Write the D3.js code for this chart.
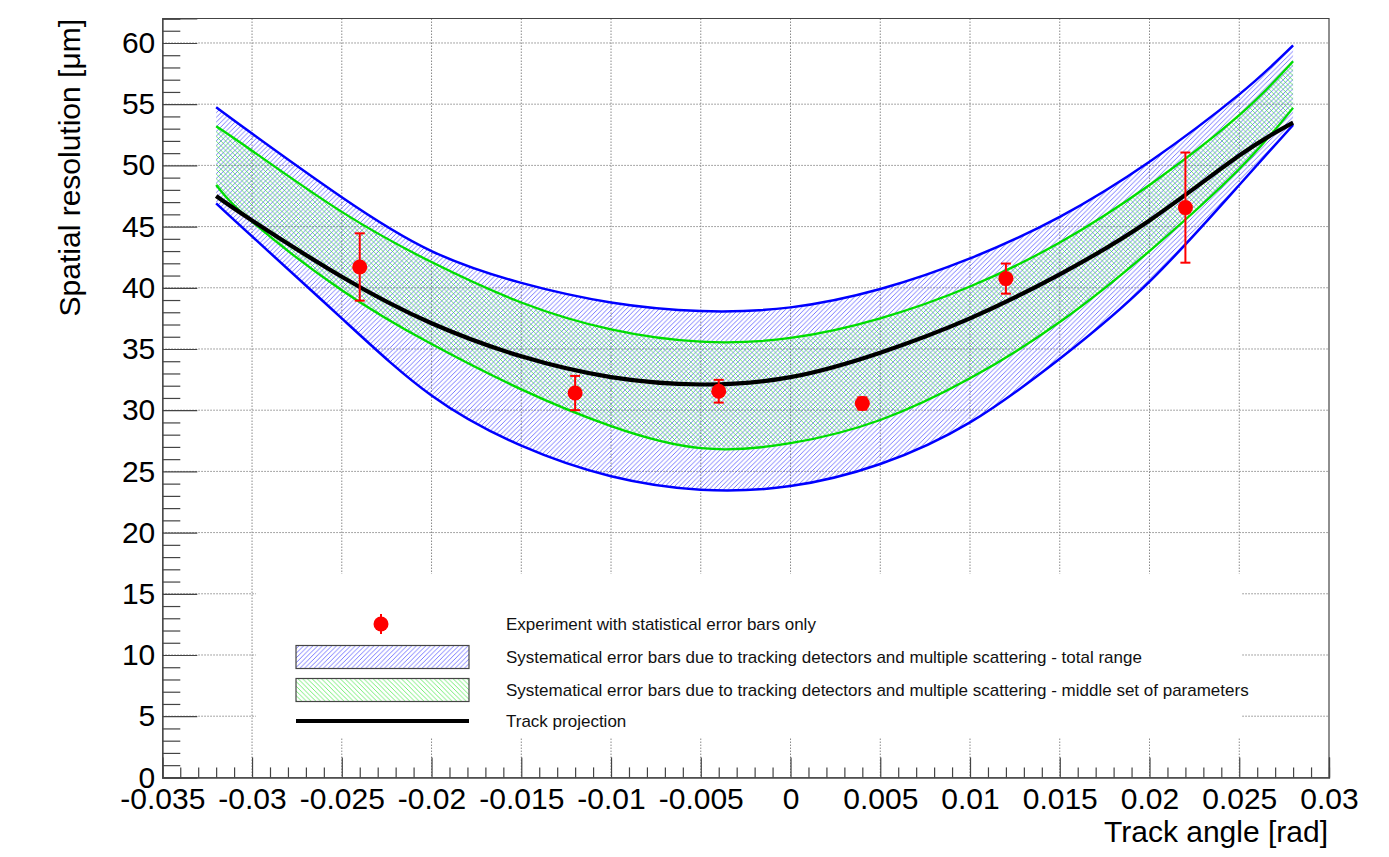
<!DOCTYPE html>
<html>
<head>
<meta charset="utf-8">
<script src="https://cdn.jsdelivr.net/npm/d3@7"></script>
<style>
  body { margin: 0; background: #fff; }
  svg { display: block; font-family: "Liberation Sans", Arial, Helvetica, sans-serif; }
  .grid line { stroke: #8a8a8a; stroke-width: 1; stroke-dasharray: 1.5,1.5; }
</style>
</head>
<body>
<div id="chart"></div>
<script>
// track angle samples for the curves [rad]
const angle = [-0.032, -0.03, -0.025, -0.02, -0.015, -0.01, -0.005, 0, 0.005, 0.01, 0.015, 0.02, 0.025, 0.028];
// systematic band, total range (blue)
const totalHigh = [54.75, 52.6, 47.4, 43.0, 40.4, 38.8, 38.1, 38.4, 39.9, 42.4, 45.8, 50.3, 55.8, 59.8];
const totalLow = [46.9, 44.2, 37.5, 31.2, 27.1, 24.6, 23.5, 23.8, 25.6, 29.0, 34.2, 40.5, 48.4, 53.3];
// systematic band, middle set of parameters (green)
const middleHigh = [53.2, 51.2, 46.2, 42.1, 38.8, 36.6, 35.6, 35.9, 37.5, 40.1, 43.7, 48.4, 54.1, 58.5];
const middleLow = [48.4, 45.4, 39.8, 35.4, 31.7, 28.7, 26.9, 27.3, 29.2, 32.6, 37.2, 43.0, 49.7, 54.7];
// track projection (black)
const projection = [47.5, 45.5, 40.9, 37.1, 34.4, 32.7, 32.1, 32.7, 34.7, 37.5, 41.1, 45.5, 50.8, 53.5];

// measured points
const expAngle = [-0.024, -0.012, -0.004, 0.004, 0.012, 0.022];
const expRes = [41.7, 31.4, 31.55, 30.55, 40.75, 46.55];
const expErr = [2.75, 1.4, 0.93, 0.5, 1.23, 4.5];

// axis ticks
const xTicks = [-0.035, -0.03, -0.025, -0.02, -0.015, -0.01, -0.005, 0, 0.005, 0.01, 0.015, 0.02, 0.025, 0.03];
const yTicks = [0, 5, 10, 15, 20, 25, 30, 35, 40, 45, 50, 55, 60];

const legendLabels = [
  "Experiment with statistical error bars only",
  "Systematical error bars due to tracking detectors and multiple scattering - total range",
  "Systematical error bars due to tracking detectors and multiple scattering - middle set of parameters",
  "Track projection"
];

const W = 1389, H = 857;
const svg = d3.select("#chart").append("svg").attr("width", W).attr("height", H);

const x = d3.scaleLinear().domain([-0.035, 0.03]).range([162.3, 1329]);
const y = d3.scaleLinear().domain([0, 62]).range([777.4, 18.5]);

// hatch patterns
const defs = svg.append("defs");
const hw = 4.7;
defs.append("pattern").attr("id", "hatchBlue")
    .attr("patternUnits", "userSpaceOnUse").attr("width", hw).attr("height", hw)
  .append("path")
    .attr("d", `M0,${hw} L${hw},0 M-1,1 L1,-1 M${hw - 1},${hw + 1} L${hw + 1},${hw - 1}`)
    .attr("stroke", "#2a2aff").attr("stroke-width", 0.9).attr("stroke-opacity", 0.7);
defs.append("pattern").attr("id", "hatchGreen")
    .attr("patternUnits", "userSpaceOnUse").attr("width", hw).attr("height", hw)
  .append("path")
    .attr("d", `M0,0 L${hw},${hw} M-1,${hw - 1} L1,${hw + 1} M${hw - 1},-1 L${hw + 1},1`)
    .attr("stroke", "#33e633").attr("stroke-width", 0.9).attr("stroke-opacity", 0.75);

// grid
const grid = svg.append("g").attr("class", "grid");
grid.selectAll(".gx").data(xTicks.slice(1, -1)).join("line")
    .attr("x1", d => x(d)).attr("x2", d => x(d))
    .attr("y1", y(62)).attr("y2", y(0));
grid.selectAll(".gy").data(yTicks.slice(1)).join("line")
    .attr("x1", x(-0.035)).attr("x2", x(0.03))
    .attr("y1", d => y(d)).attr("y2", d => y(d));

// bands
const idx = d3.range(angle.length);
const band = (lo, hi) => d3.area()
    .x(i => x(angle[i])).y0(i => y(lo[i])).y1(i => y(hi[i]))
    .curve(d3.curveNatural)(idx);
const curve = vals => d3.line()
    .x(i => x(angle[i])).y(i => y(vals[i]))
    .curve(d3.curveNatural)(idx);

svg.append("path").attr("d", band(totalLow, totalHigh)).attr("fill", "url(#hatchBlue)");
svg.append("path").attr("d", band(middleLow, middleHigh)).attr("fill", "url(#hatchGreen)");

[totalHigh, totalLow].forEach(v => svg.append("path").attr("d", curve(v))
    .attr("fill", "none").attr("stroke", "#0000ff").attr("stroke-width", 2.5));
[middleHigh, middleLow].forEach(v => svg.append("path").attr("d", curve(v))
    .attr("fill", "none").attr("stroke", "#00dd00").attr("stroke-width", 2.3));
svg.append("path").attr("d", curve(projection))
    .attr("fill", "none").attr("stroke", "#000").attr("stroke-width", 4.2);

// experimental points
const pts = svg.append("g");
expAngle.forEach((a, i) => {
  const cx = x(a), top = y(expRes[i] + expErr[i]), bot = y(expRes[i] - expErr[i]);
  pts.append("line").attr("x1", cx).attr("x2", cx).attr("y1", top).attr("y2", bot)
      .attr("stroke", "#ff0000").attr("stroke-width", 2);
  [top, bot].forEach(cy => pts.append("line")
      .attr("x1", cx - 5).attr("x2", cx + 5).attr("y1", cy).attr("y2", cy)
      .attr("stroke", "#ff0000").attr("stroke-width", 2));
  pts.append("circle").attr("cx", cx).attr("cy", y(expRes[i])).attr("r", 7.5).attr("fill", "#ff0000");
});

// legend
const leg = svg.append("g");
leg.append("rect").attr("x", 256).attr("y", 574).attr("width", 985).attr("height", 164).attr("fill", "#fff");
const rowY = [624, 657, 690, 721];
leg.append("line").attr("x1", 381).attr("x2", 381).attr("y1", rowY[0] - 10).attr("y2", rowY[0] + 10)
    .attr("stroke", "#ff0000").attr("stroke-width", 2);
leg.append("circle").attr("cx", 381).attr("cy", rowY[0]).attr("r", 7.5).attr("fill", "#ff0000");
leg.append("rect").attr("x", 296).attr("y", rowY[1] - 11.5).attr("width", 173).attr("height", 23)
    .attr("fill", "url(#hatchBlue)").attr("stroke", "#444").attr("stroke-width", 1.2);
leg.append("rect").attr("x", 296).attr("y", rowY[2] - 11.5).attr("width", 173).attr("height", 23)
    .attr("fill", "url(#hatchGreen)").attr("stroke", "#444").attr("stroke-width", 1.2);
leg.append("line").attr("x1", 296).attr("x2", 469).attr("y1", rowY[3]).attr("y2", rowY[3])
    .attr("stroke", "#000").attr("stroke-width", 4);
leg.selectAll("text").data(legendLabels).join("text")
    .attr("x", 506).attr("y", (d, i) => rowY[i] + 6)
    .attr("font-size", 17).attr("fill", "#111").text(d => d);

// axes
const fmt = d => String(+d.toFixed(3));
const ax = svg.append("g").attr("transform", `translate(0,${y(0)})`);
ax.call(d3.axisBottom(x).tickValues(xTicks).tickSize(-20).tickPadding(10).tickFormat(fmt));
svg.append("g").attr("transform", `translate(0,${y(0)})`)
    .call(d3.axisBottom(x).tickValues(x.ticks(65).filter(t => Math.abs(Math.round(t * 200) - t * 200) > 1e-6))
      .tickSize(-10).tickFormat(""));
const ay = svg.append("g").attr("transform", `translate(${x(-0.035)},0)`);
ay.call(d3.axisLeft(y).tickValues(yTicks).tickSize(-35).tickPadding(7).tickFormat(d3.format("d")));
svg.append("g").attr("transform", `translate(${x(-0.035)},0)`)
    .call(d3.axisLeft(y).tickValues(d3.range(0, 63).filter(v => v % 5 !== 0)).tickSize(-18).tickFormat(""));

svg.selectAll(".domain").attr("stroke", "#444").attr("stroke-width", 1.2);
svg.selectAll(".tick line").attr("stroke", "#444").attr("stroke-width", 1.2);
svg.selectAll(".tick text").attr("font-size", 30).attr("fill", "#000")
    .attr("font-family", "'Liberation Sans', Arial, Helvetica, sans-serif");

// frame (top and right)
svg.append("path")
    .attr("d", `M${x(-0.035)},${y(62)} L${x(0.03)},${y(62)} L${x(0.03)},${y(0)}`)
    .attr("fill", "none").attr("stroke", "#444").attr("stroke-width", 1.2);

// titles
svg.append("text").attr("x", 1328).attr("y", 842).attr("text-anchor", "end")
    .attr("font-size", 30).attr("fill", "#000").text("Track angle [rad]");
svg.append("text").attr("transform", "translate(80,19) rotate(-90)").attr("text-anchor", "end")
    .attr("font-size", 30).attr("fill", "#000").text("Spatial resolution [μm]");
</script>
</body>
</html>
